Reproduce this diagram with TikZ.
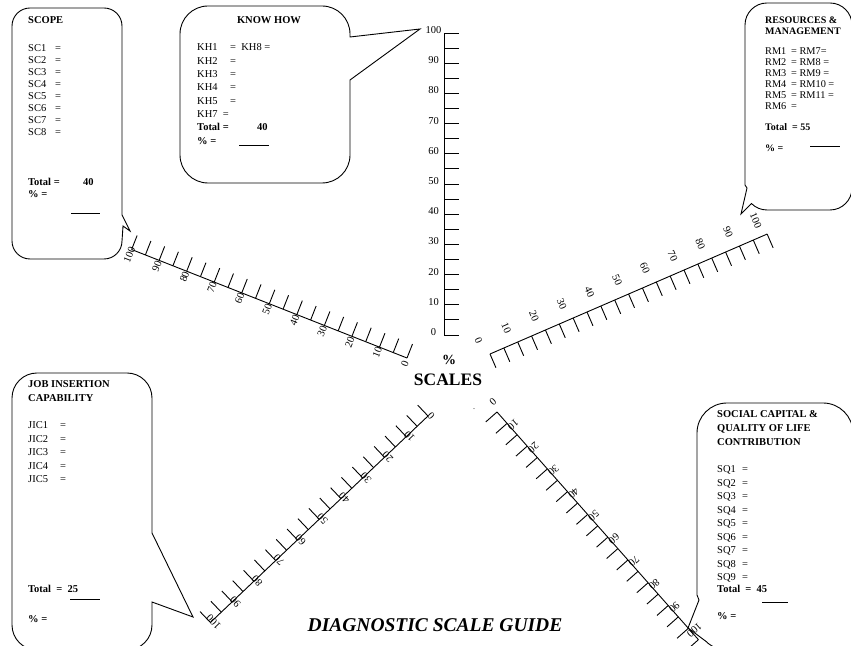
\documentclass[tikz,border=0pt]{standalone}
\usepackage{fontspec}
\setmainfont{Liberation Serif}
\newcommand\tickscale[7]{% name, origin, rotation, length, perp offset, along offset, fontsize
  \begin{scope}[shift={#2}, rotate=#3]
    \draw[scaleline] (0,0) -- (0,#4);
    \foreach \k in {0,...,20} \draw[scaleline] (0,\k*#4/20) -- (15,\k*#4/20);
    \foreach \k in {0,2,...,20} {%
      \pgfmathtruncatemacro\vv{5*\k}%
      \node[transform shape, anchor=center, inner sep=0, font=\fontsize{#7}{12}\selectfont] (#1\k) at (-#5, \k*#4/20+#6) {\vv};
    }
  \end{scope}}
\begin{document}
\begin{tikzpicture}[x=1pt,y=1pt,
  scaleline/.style={line width=0.9pt},
  callout/.style={line width=0.9pt},
  item/.style={anchor=base west, inner sep=0, font=\fontsize{10.5}{12}\selectfont},
  smallitem/.style={anchor=base west, inner sep=0, font=\fontsize{10.3}{11}\selectfont},
  head/.style={anchor=base west, inner sep=0, font=\fontsize{10.5}{12}\selectfont\bfseries},
  bitem/.style={anchor=base west, inner sep=0, font=\fontsize{10.5}{12}\selectfont\bfseries},
  uline/.style={line width=0.8pt}]
\useasboundingbox (0,0) rectangle (851,645);

% ---------- scales ----------
\tickscale{v}{(444,310)}{0}{302}{10.5}{3}{10.5}
\tickscale{ul}{(407,287)}{68.5}{296}{6}{0}{10.5}
\tickscale{ur}{(490,291)}{-66.6}{302}{17}{-5}{10.5}
\tickscale{ll}{(428,229)}{133.5}{300}{2}{-2.5}{10.5}
\tickscale{lr}{(497,233)}{-138.5}{304}{3.5}{-10}{10.5}

\node[inner sep=0, font=\fontsize{14}{16}\selectfont\bfseries] (pct) at (449,285) {\%};
\node[inner sep=0, font=\fontsize{17.5}{20}\selectfont\bfseries] (scales) at (448,265) {SCALES};
\node[inner sep=0, font=\fontsize{8}{9}\selectfont] (dot) at (474,236) {.};
\node[inner sep=0, font=\fontsize{19.5}{22}\selectfont\bfseries\itshape] (title) at (435,20) {DIAGNOSTIC SCALE GUIDE};

% ---------- SCOPE callout ----------
\draw[callout] (30,637) -- (104,637) arc[start angle=90,end angle=0,radius=18]
  -- (122,430) -- (130,414) -- (123,419) -- (122,404) arc[start angle=0,end angle=-90,radius=18]
  -- (30,386) arc[start angle=270,end angle=180,radius=18] -- (12,619) arc[start angle=180,end angle=90,radius=18] -- cycle;
\node[head] (scopeh) at (28,621) {SCOPE};
\foreach \i in {1,...,8} \node[item] (sc\i) at (28,{593-12*(\i-1)}) {\makebox[27pt][l]{SC\i}=};
\node[bitem] (sctot) at (28,459) {Total =};
\node[bitem] (sctotv) at (83,459) {40};
\node[bitem] (scpct) at (28,447) {\% =};
\draw[uline] (71,432) -- (100,432);

% ---------- KNOW HOW callout ----------
\draw[callout] (208,639) -- (322,639) arc[start angle=90,end angle=0,radius=28]
  -- (350,608) -- (420,616) -- (350,565) -- (350,490) arc[start angle=0,end angle=-90,radius=28]
  -- (208,462) arc[start angle=270,end angle=180,radius=28] -- (180,611) arc[start angle=180,end angle=90,radius=28] -- cycle;
\node[head, anchor=base] (khh) at (269,621) {KNOW HOW};
\node[item] (kh1) at (197,594) {\makebox[33pt][l]{KH1}=\ \ KH8 =};
\foreach \t/\j in {KH2/1,KH3/2,KH4/3,KH5/4} \node[item] (k\t) at (197,{594-13.3*\j}) {\makebox[33pt][l]{\t}=};
\node[item] (kh7) at (197,527.5) {KH7\ \ =};
\node[bitem] (khtot) at (197,514.2) {Total =};
\node[bitem] (khtotv) at (257,514.2) {40};
\node[bitem] (khpct) at (197,500.9) {\% =};
\draw[uline] (239,500) -- (269,500);

% ---------- RESOURCES callout ----------
\draw[callout] (767,642) -- (830,642) arc[start angle=90,end angle=0,radius=22]
  -- (852,457) arc[start angle=0,end angle=-90,radius=22] -- (767,435)
  arc[start angle=270,end angle=225,radius=22] -- (741,431) -- (747,457) -- (745,460) -- (745,620) arc[start angle=180,end angle=90,radius=22] -- cycle;
\node[head, font=\fontsize{10}{11}\selectfont\bfseries] (rmh1) at (765,621) {RESOURCES \&};
\node[head, font=\fontsize{10}{11}\selectfont\bfseries] (rmh2) at (765,610) {MANAGEMENT};
\foreach \a/\b/\j in {1/7=/0,2/8 =/1,3/9 =/2,4/10 =/3,5/11 =/4} \node[smallitem] (rm\a) at (765,{590-11*\j}) {\makebox[26pt][l]{RM\a}=\ RM\b};
\node[smallitem] (rm6) at (765,535) {\makebox[26pt][l]{RM6}=};
\node[bitem, font=\fontsize{10}{11}\selectfont\bfseries] (rmtot) at (765,514) {Total\ \ = 55};
\node[bitem, font=\fontsize{10}{11}\selectfont\bfseries] (rmpct) at (765,493) {\% =};
\draw[uline] (810,499) -- (840,499);

% ---------- JOB INSERTION callout ----------
\draw[callout] (37,272) -- (127,272) arc[start angle=90,end angle=0,radius=25]
  -- (152,112) -- (193,28) -- (152,43) -- (152,20) arc[start angle=0,end angle=-90,radius=25]
  -- (37,-5) arc[start angle=270,end angle=180,radius=25] -- (12,247) arc[start angle=180,end angle=90,radius=25] -- cycle;
\node[head] (jich1) at (28,257) {JOB INSERTION};
\node[head] (jich2) at (28,243) {CAPABILITY};
\foreach \i in {1,...,5} \node[item] (jic\i) at (28,{216-13.5*(\i-1)}) {\makebox[32pt][l]{JIC\i}=};
\node[bitem] (jictot) at (28,52) {Total\ \ =\ \ 25};
\draw[uline] (70,46) -- (100,46);
\node[bitem] (jicpct) at (28,23) {\% =};

% ---------- SOCIAL CAPITAL callout ----------
\draw[callout] (727,242) -- (823,242) arc[start angle=90,end angle=0,radius=30]
  -- (853,-5) -- (727,-5) arc[start angle=270,end angle=225,radius=30]
  -- (688,17) -- (699,45) -- (697,50) -- (697,212) arc[start angle=180,end angle=90,radius=30] -- cycle;
\node[head] (sqh1) at (717,227) {SOCIAL CAPITAL \&};
\node[head] (sqh2) at (717,213) {QUALITY OF LIFE};
\node[head] (sqh3) at (717,199) {CONTRIBUTION};
\foreach \i in {1,...,9} \node[item] (sq\i) at (717,{172-13.5*(\i-1)}) {\makebox[25pt][l]{SQ\i}=};
\node[bitem] (sqtot) at (717,52) {Total\ \ =\ \ 45};
\draw[uline] (762,43) -- (788,43);
\node[bitem] (sqpct) at (717,25) {\% =};
\end{tikzpicture}
\end{document}
